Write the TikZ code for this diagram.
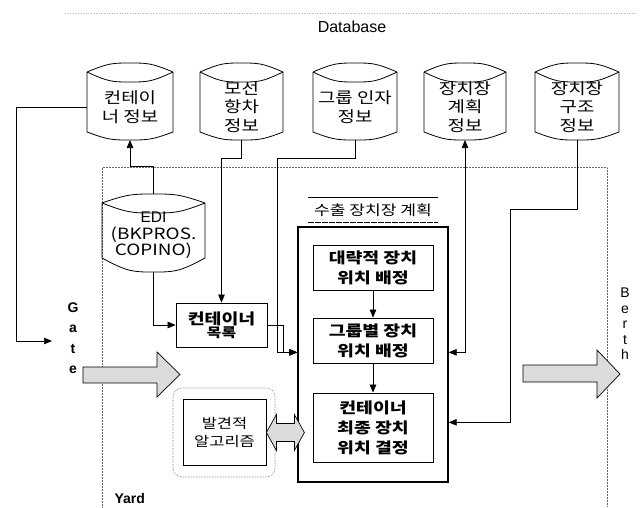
\documentclass[tikz,border=0pt]{standalone}
\usepackage{fontspec}
\setmainfont{Liberation Sans}
\newfontfamily\kr[FakeStretch=1.22]{Noto Sans CJK KR}
\usetikzlibrary{arrows.meta,calc}

% #1 name, #2 cx, #3 width, #4 y of top corners, #5 y of bottom corners, #6 bottom dip, #7 text
\newcommand{\dbshape}[7]{%
  \node[dbtext, minimum width=#3pt, minimum height={(#5-#4-10)*1pt}] (#1) at (#2,{(#4+10+#5)/2}) {#7};
  \draw[dbline]
    ({#2-#3/2},#4) .. controls ({#2-#3/4},{#4-9}) and ({#2-#3/5},{#4-9}) .. (#2,{#4-9})
                   .. controls ({#2+#3/5},{#4-9}) and ({#2+#3/4},{#4-9}) .. ({#2+#3/2},#4)
    ({#2-#3/2},#4) .. controls ({#2-#3/4},{#4+10}) and ({#2-#3/5},{#4+10}) .. (#2,{#4+10})
                   .. controls ({#2+#3/5},{#4+10}) and ({#2+#3/4},{#4+10}) .. ({#2+#3/2},#4)
    ({#2-#3/2},#4) -- ({#2-#3/2},#5)
                   .. controls ({#2-#3/4},{#5+#6}) and ({#2-#3/5},{#5+#6}) .. (#2,{#5+#6})
                   .. controls ({#2+#3/5},{#5+#6}) and ({#2+#3/4},{#5+#6}) .. ({#2+#3/2},#5)
                   -- ({#2+#3/2},#4);
  \coordinate (#1-t) at (#2,{#4-9});
  \coordinate (#1-b) at (#2,{#5+#6});
}

\begin{document}
\begin{tikzpicture}[x=1pt,y=-1pt,
  dbline/.style={line width=0.8pt},
  dbtext/.style={inner sep=0pt, align=center, font=\kr\fontsize{15.5}{18.5}\selectfont},
  tip/.style={line width=0.7pt, -{Triangle[length=8pt,width=6.5pt]}},
  tiptwo/.style={line width=0.7pt, {Triangle[length=8pt,width=6.5pt]}-{Triangle[length=8pt,width=6.5pt]}},
  stepbox/.style={draw, line width=0.8pt, minimum width=120pt, align=center, inner sep=0pt,
                  font=\kr\bfseries\fontsize{15}{20}\selectfont},
  fatarrow/.style={draw, line width=0.7pt, fill=gray!28},
  yardline/.style={densely dotted, line width=0.5pt, gray!80!black}]

\useasboundingbox (0,0) rectangle (643,507);

% Database header
\draw[dotted, gray!60, line width=0.6pt] (65,13) -- (635,13);
\node[font=\fontsize{16}{18}\selectfont] (dbtitle) at (352,27) {Database};

% yard boundary
\draw[yardline] (102,507) -- (102,167) -- (607,167) -- (607,507);
\node[anchor=west, font=\bfseries\fontsize{14}{16}\selectfont] (yard) at (111,498) {Yard};

% database cylinders
\dbshape{c1}{130}{86}{72}{132}{8}{컨테이\\너 정보}
\dbshape{c2}{241.5}{83}{72}{132}{8}{모선\\항차\\정보}
\dbshape{c3}{355}{84}{72}{132}{8}{그룹 인자\\정보}
\dbshape{c4}{465}{82}{72}{132}{8}{장치장\\계획\\정보}
\dbshape{c5}{577}{84}{72}{132}{8}{장치장\\구조\\정보}

% EDI
\dbshape{edi}{153.5}{103}{203}{258}{14}{\rmfamily\fontsize{15.5}{16.5}\selectfont EDI\\[-2pt](BKPROS.\\[-2pt]COPINO)}

% container list
\node[draw, line width=0.8pt, minimum width=91pt, minimum height=44pt, inner sep=0pt, align=center]
  (list) at (221.5,325) {{\kr\bfseries\fontsize{15}{19}\selectfont 컨테이너}\\{\kr\bfseries\fontsize{13}{19}\selectfont 목록}};

% plan block
\node[draw, line width=1.3pt, minimum width=150pt, minimum height=255pt] (plan) at (373,354.5) {};
\node[minimum width=130pt, minimum height=25pt, inner sep=0pt, font=\kr\fontsize{14}{16}\selectfont] (ttl) at (373,210) {수출 장치장 계획};
\draw[line width=0.5pt] (ttl.north west) -- (ttl.north east);
\draw[line width=0.9pt, dash pattern=on 6pt off 1pt] (ttl.south west) -- (ttl.south east);

\node[stepbox, minimum height=45pt] (b1) at (373,267.5) {대략적 장치\\위치 배정};
\node[stepbox, minimum height=45pt] (b2) at (373,340.5) {그룹별 장치\\위치 배정};
\node[stepbox, minimum height=69pt] (b3) at (373,427.5) {컨테이너\\최종 장치\\위치 결정};
\draw[tip] (b1) -- (b2);
\draw[tip] (b2) -- (b3);

\coordinate (pinL) at ($(plan.north west)+(0,126)$);
\coordinate (pinR) at ($(plan.north east)+(0,126)$);
\coordinate (pinR2) at ($(plan.north east)+(0,196)$);

% heuristic algorithm
\node[draw, line width=0.8pt, minimum width=83pt, minimum height=66pt, inner sep=0pt, align=center,
      font=\kr\fontsize{13.5}{18}\selectfont] (alg) at (224.5,432.5) {발견적\\알고리즘};
\draw[densely dotted, gray!80!black, line width=0.6pt, rounded corners=9pt] (173,388) rectangle (275,477);

% Gate / Berth
\node[align=center, inner sep=0pt, font=\bfseries\fontsize{14}{20.5}\selectfont] (gate) at (73,338) {G\\a\\t\\e};
\node[align=center, inner sep=0pt, font=\fontsize{14}{15.5}\selectfont] (berth) at (625,324) {B\\e\\r\\t\\h};
\coordinate (gin) at (52,341);

% fat arrows
\draw[fatarrow] (83,367) -- (157,367) -- (157,352) -- (180,374.5) -- (157,397) -- (157,383) -- (83,383) -- cycle;
\draw[fatarrow] (523,365) -- (597,365) -- (597,350) -- (620,374) -- (597,398) -- (597,382) -- (523,382) -- cycle;
\draw[fatarrow] (alg.east) -- ++(10,-18) -- ++(0,9) -- ++(18,0) -- ++(0,-9) -- ++(10,18)
   -- ++(-10,18) -- ++(0,-9) -- ++(-18,0) -- ++(0,9) -- cycle;

% connectors
\draw[tip] (c1.west) -| ($(gin)+(-36,0)$) -- (gin);
\draw[tip] (edi-t) -- ++(0,-28) -| (c1-b);
\draw[tip] (edi-b) |- (list.west);
\draw[tip] (c2-b) -- ++(0,18) -| (list.north);
\draw[tip] (c3-b) -- ++(0,18) -| ($(pinL)+(-20,0)$) -- (pinL);
\draw[tip] (list.east) -- ++(16,0) |- (pinL);
\draw[tiptwo] (c4-b) |- (pinR);
\draw[tip] (c5-b) -- ++(0,69) -| ($(pinR2)+(62,0)$) -- (pinR2);

\end{tikzpicture}
\end{document}
